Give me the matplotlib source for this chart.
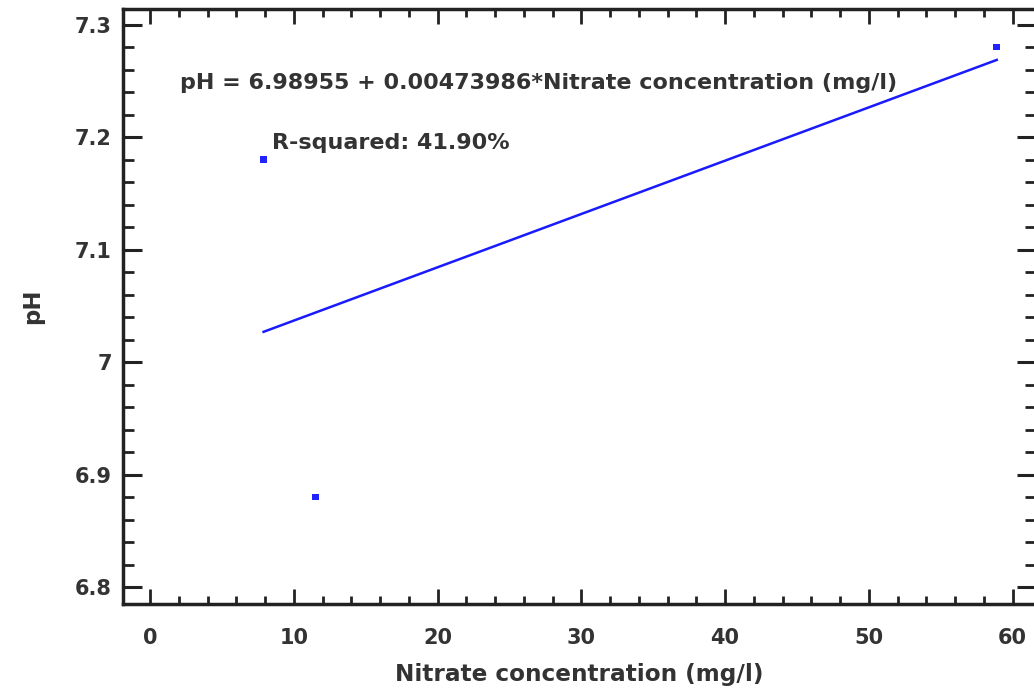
import matplotlib
matplotlib.use("Agg")
import matplotlib.pyplot as plt
from matplotlib.ticker import MultipleLocator
import numpy as np

nitrate = [7.9, 11.5, 58.9]
ph = [7.18, 6.88, 7.28]
intercept = 6.98955
slope = 0.00473986
equation_text = "pH = 6.98955 + 0.00473986*Nitrate concentration (mg/l)"
r2_text = "R-squared: 41.90%"
x_label = "Nitrate concentration (mg/l)"
y_label = "pH"

plt.rcParams['font.family'] = ['DejaVu Sans']
plt.rcParams['font.weight'] = 'bold'
txt = '#333333'
fs = 16

fig = plt.figure(figsize=(10.34, 6.89), dpi=100)
ax = fig.add_axes([123/1034, 1-604/689, (1036-123)/1034, (604-9)/689])

xs = np.array([min(nitrate), max(nitrate)])
ax.plot(xs, intercept + slope * xs, color='#1a1aff', lw=1.8, zorder=2)
ax.scatter(nitrate, ph, marker='s', s=22, color='#2222ff', edgecolors='none', zorder=3)

ax.set_xlim(-1.88, 61.63)
ax.set_ylim(6.785, 7.314)
ax.xaxis.set_major_locator(MultipleLocator(10))
ax.xaxis.set_minor_locator(MultipleLocator(2))
ax.yaxis.set_minor_locator(MultipleLocator(0.02))
ax.set_yticks([6.8, 6.9, 7.0, 7.1, 7.2, 7.3])
ax.set_yticklabels(['6.8', '6.9', '7', '7.1', '7.2', '7.3'])

ax.tick_params(which='both', direction='in', top=True, right=True, colors='#222222',
               labelcolor=txt, labelsize=15)
ax.tick_params(axis='y', which='major', length=14, width=2.2, pad=8)
ax.tick_params(axis='y', which='minor', length=8, width=2)
ax.tick_params(axis='x', which='major', length=11, width=2, pad=17)
ax.tick_params(axis='x', which='minor', length=6, width=2)
for lab in ax.get_xticklabels() + ax.get_yticklabels():
    lab.set_fontweight('bold')

for sp in ax.spines.values():
    sp.set_linewidth(2.5)
    sp.set_color('#222222')

ax.set_xlabel(x_label, fontsize=16.7, fontweight='bold', color=txt, labelpad=11)
ax.set_ylabel(y_label, fontsize=16.5, fontweight='bold', color=txt, labelpad=22)

ax.text(2.1, 7.248, equation_text, fontsize=fs, fontweight='bold', color=txt,
        va='center', ha='left')
ax.text(8.5, 7.195, r2_text, fontsize=fs, fontweight='bold', color=txt,
        va='center', ha='left')

fig.savefig('out.png', dpi=100)
